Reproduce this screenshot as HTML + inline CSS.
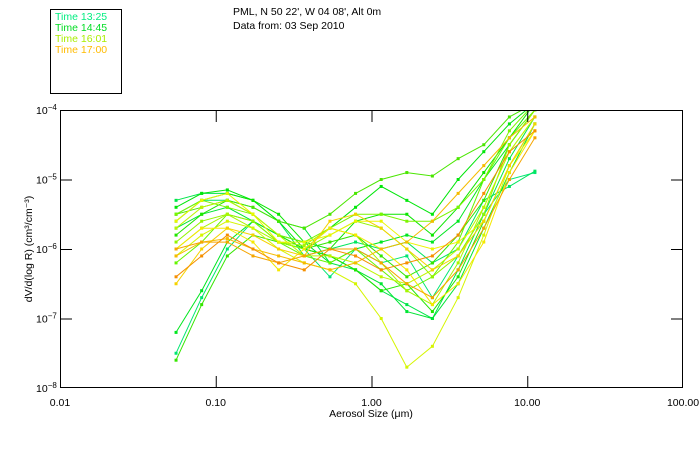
<!DOCTYPE html>
<html><head><meta charset="utf-8"><style>
body{margin:0;background:#fff;}
svg text{font-family:"Liberation Sans",sans-serif;font-size:10.5px;fill:#000;}
</style></head><body>
<svg id="chart" width="700" height="450" xmlns="http://www.w3.org/2000/svg">
<rect x="0" y="0" width="700" height="450" fill="#fff"/>
<g>
<rect x="50.5" y="9.5" width="71" height="84" fill="none" stroke="#000"/>
<text x="55" y="20" style="fill:#00ee80">Time 13:25</text>
<text x="55" y="31" style="fill:#00dd22">Time 14:45</text>
<text x="55" y="42" style="fill:#aaee00">Time 16:01</text>
<text x="55" y="53" style="fill:#ffbb00">Time 17:00</text>
</g>
<text x="233" y="15">PML, N 50 22', W 04 08', Alt 0m</text>
<text x="233" y="29">Data from: 03 Sep 2010</text>
<defs><clipPath id="pc"><rect x="60" y="110" width="623" height="278"/></clipPath></defs>
<g id="series" clip-path="url(#pc)"></g>
<rect x="60.5" y="110.5" width="622" height="277" fill="none" stroke="#000"/>
<g id="axes"></g>
<text x="32" y="249" transform="rotate(-90 32 249)" text-anchor="middle">dV/d(log R) (cm³/cm⁻³)</text>
<text x="371" y="417" text-anchor="middle">Aerosol Size (μm)</text>
</svg>
<script>
const sizes=[0.0556,0.0812,0.1187,0.1734,0.2533,0.370,0.541,0.790,1.154,1.686,2.46,3.60,5.26,7.68,11.2];
const xTicks=[0.01,0.1,1,10,100];
const xTickLabels=["0.01","0.10","1.00","10.00","100.00"];
const yTicks=[-4,-5,-6,-7,-8];
const s1=[-7.5,-6.7,-6.0,-5.6,-5.8,-6.0,-6.4,-6.0,-6.2,-6.1,-6.7,-6.1,-5.5,-5.0,-4.9];
const s2=[-5.5,-5.3,-5.3,-5.4,-5.6,-6.1,-6.0,-5.9,-6.0,-5.9,-6.2,-6.0,-5.3,-5.1,-4.88];
const s3=[-5.3,-5.2,-5.2,-5.3,-5.6,-5.7,-6.2,-6.3,-6.6,-6.8,-7.0,-6.3,-5.5,-4.7,-4.1];
const s4=[-5.7,-5.5,-5.4,-5.6,-5.9,-6.0,-6.1,-6.3,-6.5,-6.9,-7.0,-6.5,-5.7,-4.9,-4.2];
const s5=[-7.2,-6.6,-5.9,-5.6,-5.8,-5.9,-6.2,-6.0,-5.9,-5.8,-5.9,-5.6,-5.0,-4.5,-4.0];
const s6=[-5.4,-5.2,-5.15,-5.3,-5.6,-6.0,-5.7,-5.4,-5.1,-5.3,-5.5,-5.0,-4.6,-4.2,-3.9];
const s7=[-5.6,-5.3,-5.2,-5.3,-5.5,-5.9,-6.0,-5.6,-5.5,-5.5,-5.8,-5.4,-4.9,-4.4,-3.9];
const s8=[-5.8,-5.5,-5.3,-5.5,-5.8,-6.0,-6.1,-6.3,-6.6,-6.5,-6.9,-6.4,-5.6,-4.8,-4.2];
const s9=[-7.6,-6.8,-6.1,-5.8,-5.9,-6.0,-5.9,-5.8,-6.1,-6.4,-6.2,-5.8,-5.3,-4.5,-4.0];
const s10=[-5.5,-5.4,-5.3,-5.4,-5.6,-5.7,-5.5,-5.2,-5.0,-4.9,-4.95,-4.7,-4.5,-4.1,-3.9];
const s11=[-6.2,-5.9,-5.5,-5.6,-5.9,-6.1,-6.2,-6.0,-6.3,-6.6,-6.4,-5.9,-5.0,-4.4,-4.0];
const s12=[-5.5,-5.3,-5.4,-5.5,-5.8,-5.9,-5.7,-5.5,-5.5,-5.6,-5.6,-5.4,-5.0,-4.3,-3.9];
const s13=[-5.9,-5.6,-5.5,-5.6,-5.9,-6.0,-5.8,-5.6,-5.7,-6.0,-6.4,-6.1,-5.5,-4.5,-4.0];
const s14=[-6.0,-5.7,-5.5,-5.7,-5.9,-5.95,-5.7,-5.8,-6.2,-6.6,-6.8,-6.2,-5.4,-4.6,-4.1];
const s15=[-5.7,-5.4,-5.3,-5.5,-5.8,-6.1,-6.1,-6.2,-6.4,-6.5,-6.3,-6.0,-5.4,-4.6,-4.1];
const s16=[-6.1,-5.8,-5.6,-5.7,-6.0,-6.2,-6.3,-6.5,-7.0,-7.7,-7.4,-6.7,-5.8,-4.8,-4.2];
const s17=[-5.6,-5.3,-5.2,-5.5,-5.9,-5.9,-5.8,-5.6,-5.6,-5.9,-6.0,-5.9,-5.6,-4.8,-4.3];
const s18=[-6.0,-5.7,-5.7,-5.9,-6.3,-6.0,-5.7,-5.8,-6.0,-6.3,-6.8,-6.5,-5.9,-4.9,-4.3];
const s19=[-6.5,-6.0,-5.7,-5.8,-6.0,-6.1,-5.6,-5.5,-5.7,-6.0,-6.3,-6.1,-5.6,-4.8,-4.2];
const s20=[-6.1,-5.9,-5.85,-6.0,-6.1,-6.2,-6.3,-6.2,-6.0,-5.9,-5.6,-5.2,-4.8,-4.4,-4.1];
const s21=[-6.0,-5.9,-5.9,-6.1,-6.2,-6.1,-6.0,-6.0,-6.2,-6.5,-6.7,-6.3,-5.7,-5.0,-4.4];
const s22=[-6.4,-6.1,-5.8,-6.0,-6.2,-6.3,-6.0,-6.1,-6.3,-6.2,-6.1,-5.8,-5.2,-4.6,-4.3];
const allSeries=[s1,s2,s3,s4,s5,s6,s7,s8,s9,s10,s11,s12,s13,s14,s15,s16,s17,s18,s19,s20,s21,s22];
const NS="http://www.w3.org/2000/svg";
const X0=60,X1=683,YT=110,YB=388;
function xs(v){return X0+(Math.log10(v)+2)/4*(X1-X0);}
function ys(l){return YT+(-4-l)/4*(YB-YT);}
const g=document.getElementById('series');
allSeries.forEach((s,i)=>{
  const h=150-115*i/(allSeries.length-1);
  const col=`hsl(${h},100%,${h>100?45:48}%)`;
  const pl=document.createElementNS(NS,'polyline');
  pl.setAttribute('points',s.map((v,j)=>xs(sizes[j]).toFixed(1)+','+ys(v).toFixed(1)).join(' '));
  pl.setAttribute('fill','none');pl.setAttribute('stroke',col);pl.setAttribute('stroke-width','1');
  
  
  g.appendChild(pl);
  s.forEach((v,j)=>{
    const r=document.createElementNS(NS,'rect');
    r.setAttribute('x',xs(sizes[j])-1.5);r.setAttribute('y',ys(v)-1.5);
    r.setAttribute('width',3);r.setAttribute('height',3);r.setAttribute('fill',col);
    
    
    g.appendChild(r);
  });
});
const ax=document.getElementById('axes');
xTicks.forEach((t,i)=>{
  const x=xs(t);
  if(i>0&&i<xTicks.length-1){
    const l1=document.createElementNS(NS,'path');
    l1.setAttribute('d',`M${x+0.5},${YB}V${YB-12}M${x+0.5},${YT}V${YT+12}`);
    l1.setAttribute('stroke','#000');
    
    
    ax.appendChild(l1);
  }
  const tx=document.createElementNS(NS,'text');
  tx.setAttribute('x',x);tx.setAttribute('y',YB+18);tx.setAttribute('text-anchor','middle');
  tx.textContent=xTickLabels[i];
  
  
  ax.appendChild(tx);
});
yTicks.forEach((t,i)=>{
  const y=ys(t);
  if(i>0&&i<yTicks.length-1){
    const l1=document.createElementNS(NS,'path');
    l1.setAttribute('d',`M${X0},${y+0.5}H${X0+12}M${X1},${y+0.5}H${X1-12}`);
    l1.setAttribute('stroke','#000');
    
    
    ax.appendChild(l1);
  }
  const tx=document.createElementNS(NS,'text');
  tx.setAttribute('x',36);tx.setAttribute('y',y+4);
  tx.innerHTML='10<tspan dy="-4" font-size="8">'+'−'+Math.abs(t)+'</tspan>';
  
  
  ax.appendChild(tx);
});
</script>
</body></html>
